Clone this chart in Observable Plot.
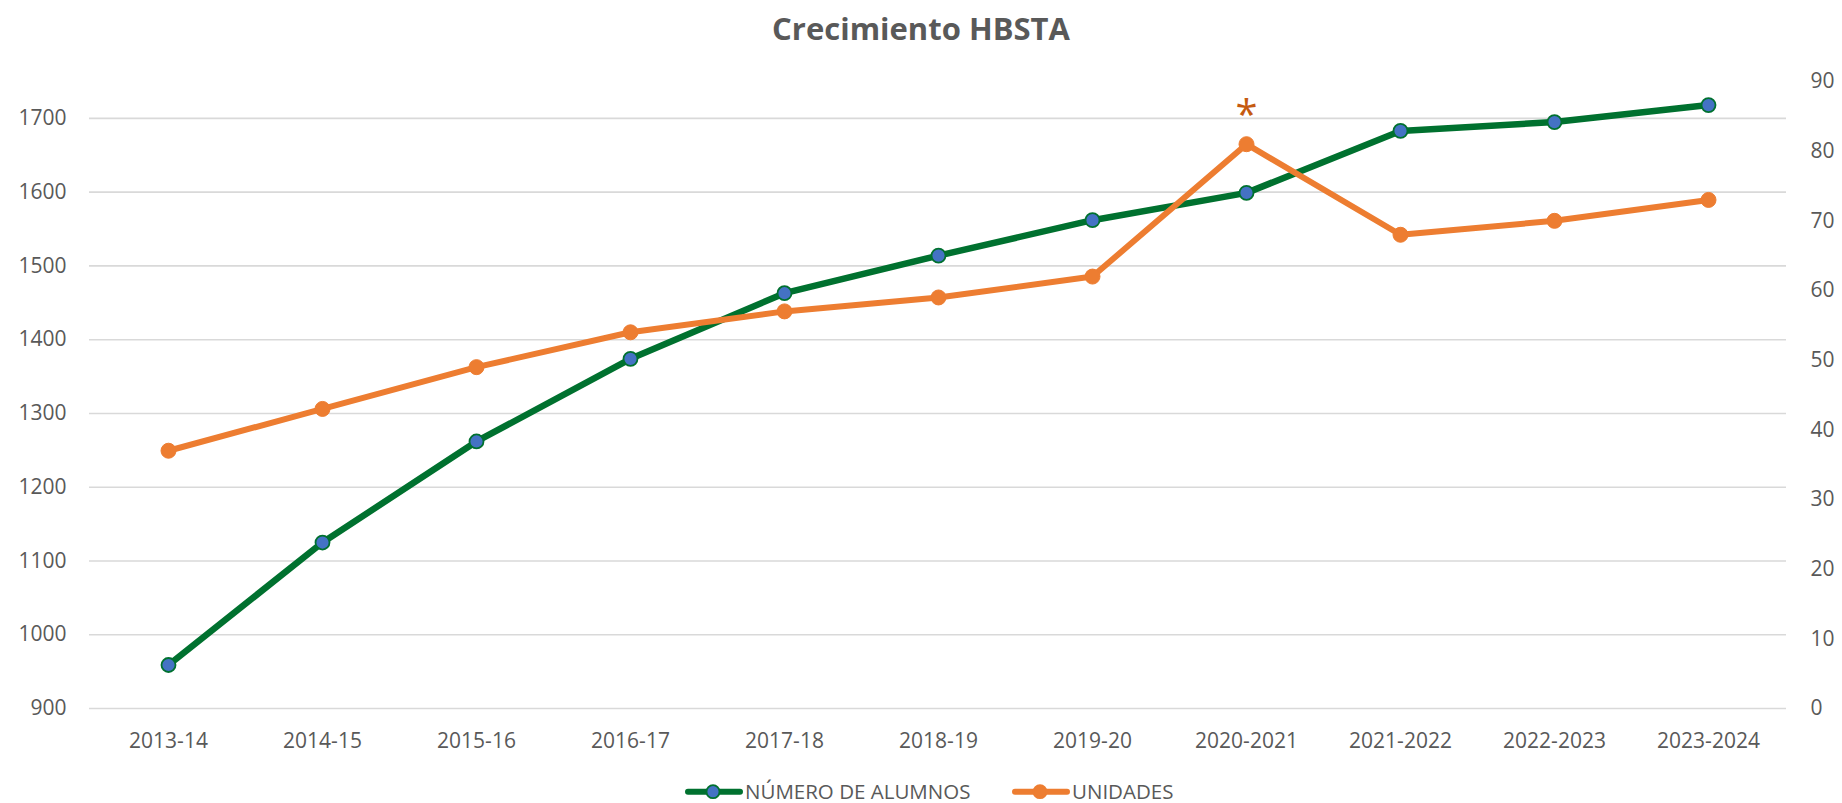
<!DOCTYPE html>
<html>
<head>
<meta charset="utf-8">
<script src="https://cdn.jsdelivr.net/npm/d3@7"></script>
<script src="https://cdn.jsdelivr.net/npm/@observablehq/plot@0.6"></script>
<style>
  html, body { margin: 0; padding: 0; background: #ffffff; }
  body { width: 1842px; height: 803px; overflow: hidden; font-family: "Open Sans", sans-serif; color: #595959; }
  #title { height: 60px; line-height: 56px; text-align: center; font-size: 31px; font-weight: 700; color: #595959; }
  #chart { height: 700px; }
  #legend { position: relative; height: 43px; }
  .item { position: absolute; top: 0; height: 43px; }
  .item svg { position: absolute; top: 0; }
  .item span { position: absolute; top: 17px; font-size: 20.5px; line-height: 28px; white-space: nowrap; color: #595959; }
</style>
</head>
<body>
<div id="title">Crecimiento HBSTA</div>
<div id="chart"></div>
<div id="legend"></div>
<script>
// ---- data ----
const categories = ["2013-14","2014-15","2015-16","2016-17","2017-18","2018-19","2019-20","2020-2021","2021-2022","2022-2023","2023-2024"];
const alumnos = [959, 1125, 1262, 1374, 1463, 1514, 1562, 1599, 1683, 1695, 1718];
const unidades = [37, 43, 49, 54, 57, 59, 62, 81, 68, 70, 73];
const leftTicks = [900, 1000, 1100, 1200, 1300, 1400, 1500, 1600, 1700];
const rightTicks = [0, 10, 20, 30, 40, 50, 60, 70, 80, 90];
const leftDomain = [900, 1750];
const rightDomain = [0, 90];
const seriesNames = ["NÚMERO DE ALUMNOS", "UNIDADES"];
const noteCategory = "2020-2021";
const noteText = "*";

// ---- styles ----
const green = "#00712F";
const blue = "#4472C4";
const orange = "#ED7D31";
const darkOrange = "#C55A11";
const grid = "#D9D9D9";
const textColor = "#595959";
const font = "'Open Sans', sans-serif";

const toLeft = v => leftDomain[0] + (v - rightDomain[0]) * (leftDomain[1] - leftDomain[0]) / (rightDomain[1] - rightDomain[0]);
const fromLeft = v => rightDomain[0] + (v - leftDomain[0]) * (rightDomain[1] - rightDomain[0]) / (leftDomain[1] - leftDomain[0]);

const rows = categories.map((c, i) => ({cat: c, alumnos: alumnos[i], unidades: unidades[i]}));
const notes = rows.filter(d => d.cat === noteCategory).map(d => ({...d, text: noteText}));

const chart = Plot.plot({
  width: 1842,
  height: 700,
  marginLeft: 89,
  marginRight: 56,
  marginTop: 21,
  marginBottom: 52,
  style: {fontFamily: font, color: textColor, background: "white"},
  x: {type: "point", domain: categories, padding: 0.5, axis: null},
  y: {domain: leftDomain, axis: null},
  marks: [
    Plot.ruleY(leftTicks, {stroke: grid, strokeWidth: 1.6}),
    Plot.axisY(leftTicks, {anchor: "left", tickSize: 0, tickPadding: 23, fontSize: 21, label: null, fill: textColor,
      tickFormat: d => String(d)}),
    Plot.axisY(rightTicks.map(toLeft), {anchor: "right", tickSize: 0, tickPadding: 24, fontSize: 21, label: null, fill: textColor,
      tickFormat: d => String(Math.round(fromLeft(d)))}),
    Plot.axisX({tickSize: 0, tickPadding: 25, fontSize: 21, label: null, fill: textColor}),
    Plot.line(rows, {x: "cat", y: "alumnos", stroke: green, strokeWidth: 6.5, strokeLinejoin: "round", strokeLinecap: "round"}),
    Plot.dot(rows, {x: "cat", y: "alumnos", r: 7, fill: blue, stroke: green, strokeWidth: 1.8}),
    Plot.line(rows, {x: "cat", y: d => toLeft(d.unidades), stroke: orange, strokeWidth: 6, strokeLinejoin: "round", strokeLinecap: "round"}),
    Plot.dot(rows, {x: "cat", y: d => toLeft(d.unidades), r: 7.5, fill: orange, stroke: orange, strokeWidth: 1}),
    Plot.text(notes, {x: "cat", y: d => toLeft(d.unidades), text: "text", dy: -28, fontSize: 40, fill: darkOrange, fontFamily: font})
  ]
});
document.getElementById("chart").appendChild(chart);

// ---- legend ----
const legend = document.getElementById("legend");
const legendItems = [
  {name: seriesNames[0], stroke: green, fill: blue, left: 685},
  {name: seriesNames[1], stroke: orange, fill: orange, left: 1012}
];
for (const it of legendItems) {
  const div = document.createElement("div");
  div.className = "item";
  div.style.left = it.left + "px";
  div.innerHTML = `<svg width="58" height="43"><line x1="3" x2="55" y1="31.7" y2="31.7" stroke="${it.stroke}" stroke-width="6" stroke-linecap="round"/><circle cx="28" cy="31.7" r="6.5" fill="${it.fill}" stroke="${it.stroke}" stroke-width="1.8"/></svg><span style="left:60px">${it.name}</span>`;
  legend.appendChild(div);
}
</script>
</body>
</html>
